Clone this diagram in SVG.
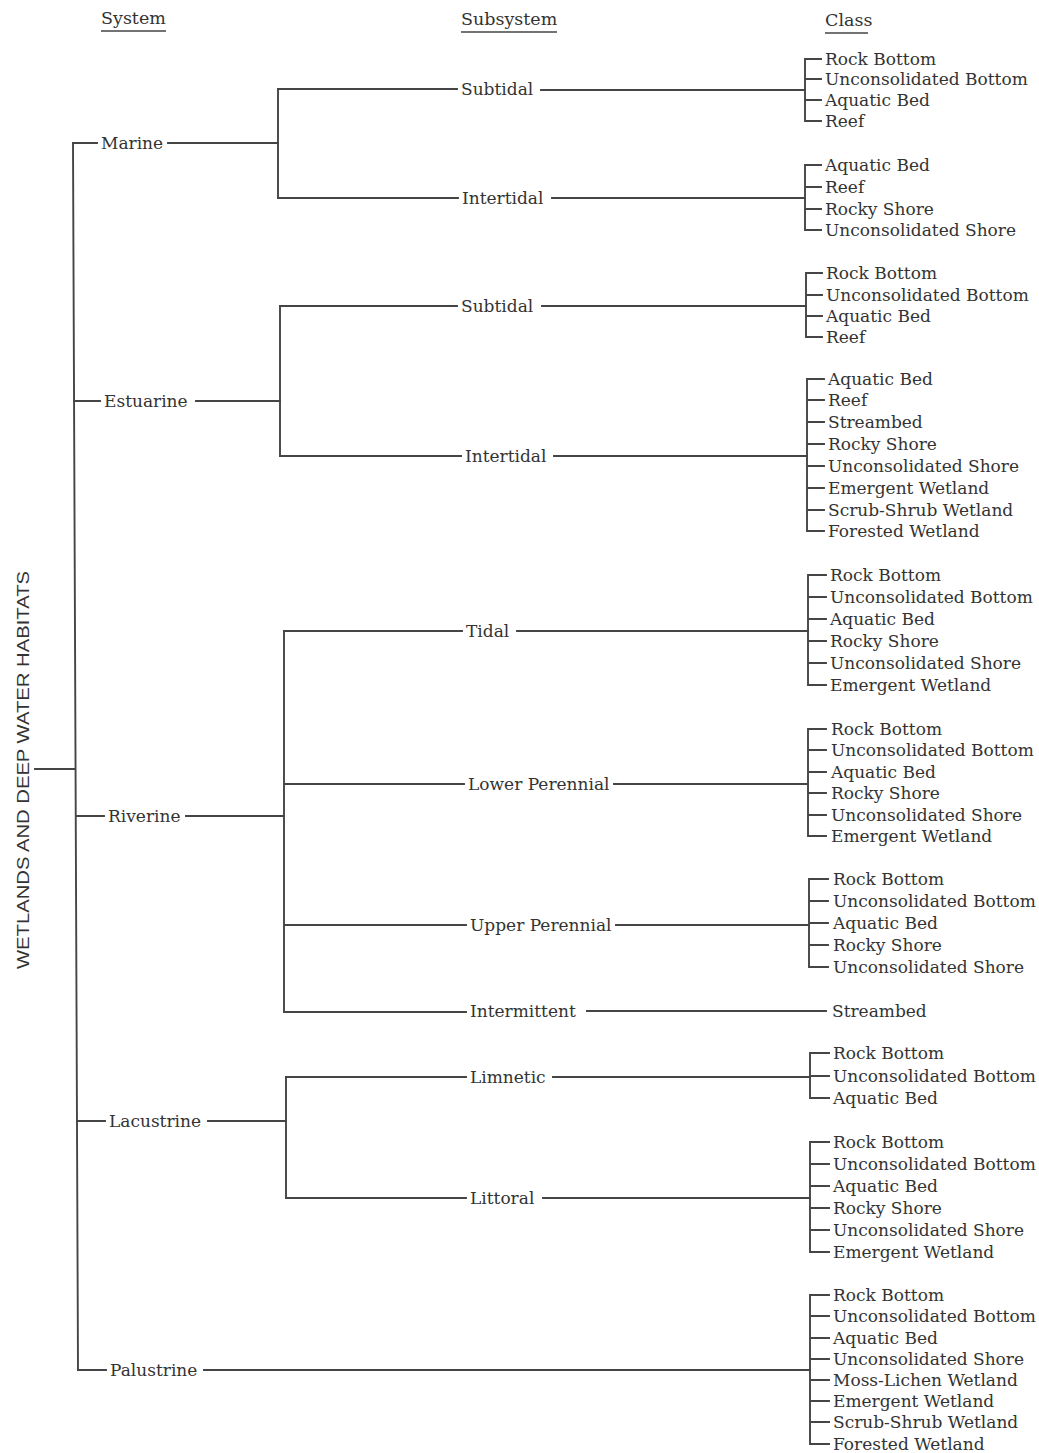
<svg xmlns="http://www.w3.org/2000/svg" width="1039" height="1453" viewBox="0 0 1039 1453">
<style>
.bg{fill:#ffffff}
.ln{fill:none;stroke:#454545;stroke-width:1.9;stroke-linecap:square}
.t{font-family:"DejaVu Serif","Liberation Serif",serif;font-size:17px;fill:#333333}
.h{font-family:"DejaVu Serif","Liberation Serif",serif;font-size:17.5px;fill:#333333}
.ul{stroke:#454545;stroke-width:1.6}
.root{font-family:"Liberation Sans","DejaVu Sans",sans-serif;font-size:17px;fill:#333333}
</style>
<rect class="bg" x="0" y="0" width="1039" height="1453"/>

<g id="headers">
<text class="h" x="101" y="24">System</text>
<line class="ul" x1="101" y1="31" x2="166" y2="31"/>
<text class="h" x="461" y="25">Subsystem</text>
<line class="ul" x1="461" y1="32" x2="557" y2="32"/>
<text class="h" x="825" y="26">Class</text>
<line class="ul" x1="825" y1="33" x2="868" y2="33"/>
</g>

<g id="connectors">
<path class="ln" d="M35 769H75"/>
<path class="ln" d="M73 143L78 1370"/>
<path class="ln" d="M73 143H97 M168 143H278"/>
<path class="ln" d="M74 401H100 M196 401H280"/>
<path class="ln" d="M76 816H104 M186 816H284"/>
<path class="ln" d="M77 1121H105 M208 1121H286"/>
<path class="ln" d="M78 1370H106 M204 1370H810"/>
<path class="ln" d="M278 89V198"/>
<path class="ln" d="M280 306V456"/>
<path class="ln" d="M284 631V1012"/>
<path class="ln" d="M286 1077V1198"/>
<path class="ln" d="M278 89H457 M541 90H805"/>
<path class="ln" d="M278 198H458 M552 198H805"/>
<path class="ln" d="M280 306H457 M542 306H806"/>
<path class="ln" d="M280 456H461 M554 456H807"/>
<path class="ln" d="M284 631H462 M517 631H808"/>
<path class="ln" d="M284 784H464 M614 784H808"/>
<path class="ln" d="M285 925H466 M616 925H809"/>
<path class="ln" d="M285 1012H466 M587 1011H826"/>
<path class="ln" d="M286 1077H466 M553 1077H810"/>
<path class="ln" d="M286 1198H466 M543 1198H810"/>
<path class="ln" d="M821 59H805V121H821 M805 79h16 M805 100h16"/>
<path class="ln" d="M821 165H805V230H821 M805 187h16 M805 209h16"/>
<path class="ln" d="M822 273H806V337H822 M806 295h16 M806 316h16"/>
<path class="ln" d="M824 379H807V531H824 M807 400h17 M807 422h17 M807 444h17 M807 466h17 M807 488h17 M807 510h17"/>
<path class="ln" d="M826 575H808V685H826 M808 597h18 M808 619h18 M808 641h18 M808 663h18"/>
<path class="ln" d="M826 729H808V836H826 M808 750h18 M808 772h18 M808 793h18 M808 815h18"/>
<path class="ln" d="M828 879H809V967H828 M809 901h19 M809 923h19 M809 945h19"/>
<path class="ln" d="M829 1053H810V1098H829 M810 1076h19"/>
<path class="ln" d="M829 1142H810V1252H829 M810 1164h19 M810 1186h19 M810 1208h19 M810 1230h19"/>
<path class="ln" d="M829 1295H810V1444H829 M810 1316h19 M810 1338h19 M810 1359h19 M810 1380h19 M810 1401h19 M810 1422h19"/>
</g>

<g id="root"><text class="root" transform="translate(29 969) rotate(-90)" textLength="398" lengthAdjust="spacingAndGlyphs">WETLANDS AND DEEP WATER HABITATS</text></g>

<g id="sys-marine"><text class="t" x="101" y="149">Marine</text></g>
<g id="sys-estuarine"><text class="t" x="104" y="407">Estuarine</text></g>
<g id="sys-riverine"><text class="t" x="108" y="822">Riverine</text></g>
<g id="sys-lacustrine"><text class="t" x="109" y="1127">Lacustrine</text></g>
<g id="sys-palustrine"><text class="t" x="110" y="1376">Palustrine</text></g>

<g id="sub-marine-subtidal"><text class="t" x="461" y="95">Subtidal</text></g>
<g id="sub-marine-intertidal"><text class="t" x="462" y="204">Intertidal</text></g>
<g id="sub-estuarine-subtidal"><text class="t" x="461" y="312">Subtidal</text></g>
<g id="sub-estuarine-intertidal"><text class="t" x="465" y="462">Intertidal</text></g>
<g id="sub-riverine-tidal"><text class="t" x="466" y="637">Tidal</text></g>
<g id="sub-riverine-lower"><text class="t" x="468" y="790">Lower Perennial</text></g>
<g id="sub-riverine-upper"><text class="t" x="470" y="931">Upper Perennial</text></g>
<g id="sub-riverine-intermittent"><text class="t" x="470" y="1017">Intermittent</text></g>
<g id="sub-lacustrine-limnetic"><text class="t" x="470" y="1083">Limnetic</text></g>
<g id="sub-lacustrine-littoral"><text class="t" x="470" y="1204">Littoral</text></g>

<g id="cls-marine-subtidal" class="t">
<text x="825" y="65">Rock Bottom</text>
<text x="825" y="85">Unconsolidated Bottom</text>
<text x="825" y="106">Aquatic Bed</text>
<text x="825" y="127">Reef</text>
</g>
<g id="cls-marine-intertidal" class="t">
<text x="825" y="171">Aquatic Bed</text>
<text x="825" y="193">Reef</text>
<text x="825" y="215">Rocky Shore</text>
<text x="825" y="236">Unconsolidated Shore</text>
</g>
<g id="cls-estuarine-subtidal" class="t">
<text x="826" y="279">Rock Bottom</text>
<text x="826" y="301">Unconsolidated Bottom</text>
<text x="826" y="322">Aquatic Bed</text>
<text x="826" y="343">Reef</text>
</g>
<g id="cls-estuarine-intertidal" class="t">
<text x="828" y="385">Aquatic Bed</text>
<text x="828" y="406">Reef</text>
<text x="828" y="428">Streambed</text>
<text x="828" y="450">Rocky Shore</text>
<text x="828" y="472">Unconsolidated Shore</text>
<text x="828" y="494">Emergent Wetland</text>
<text x="828" y="516">Scrub-Shrub Wetland</text>
<text x="828" y="537">Forested Wetland</text>
</g>
<g id="cls-riverine-tidal" class="t">
<text x="830" y="581">Rock Bottom</text>
<text x="830" y="603">Unconsolidated Bottom</text>
<text x="830" y="625">Aquatic Bed</text>
<text x="830" y="647">Rocky Shore</text>
<text x="830" y="669">Unconsolidated Shore</text>
<text x="830" y="691">Emergent Wetland</text>
</g>
<g id="cls-riverine-lower" class="t">
<text x="831" y="735">Rock Bottom</text>
<text x="831" y="756">Unconsolidated Bottom</text>
<text x="831" y="778">Aquatic Bed</text>
<text x="831" y="799">Rocky Shore</text>
<text x="831" y="821">Unconsolidated Shore</text>
<text x="831" y="842">Emergent Wetland</text>
</g>
<g id="cls-riverine-upper" class="t">
<text x="833" y="885">Rock Bottom</text>
<text x="833" y="907">Unconsolidated Bottom</text>
<text x="833" y="929">Aquatic Bed</text>
<text x="833" y="951">Rocky Shore</text>
<text x="833" y="973">Unconsolidated Shore</text>
</g>
<g id="cls-riverine-intermittent" class="t">
<text x="832" y="1017">Streambed</text>
</g>
<g id="cls-lacustrine-limnetic" class="t">
<text x="833" y="1059">Rock Bottom</text>
<text x="833" y="1082">Unconsolidated Bottom</text>
<text x="833" y="1104">Aquatic Bed</text>
</g>
<g id="cls-lacustrine-littoral" class="t">
<text x="833" y="1148">Rock Bottom</text>
<text x="833" y="1170">Unconsolidated Bottom</text>
<text x="833" y="1192">Aquatic Bed</text>
<text x="833" y="1214">Rocky Shore</text>
<text x="833" y="1236">Unconsolidated Shore</text>
<text x="833" y="1258">Emergent Wetland</text>
</g>
<g id="cls-palustrine" class="t">
<text x="833" y="1301">Rock Bottom</text>
<text x="833" y="1322">Unconsolidated Bottom</text>
<text x="833" y="1344">Aquatic Bed</text>
<text x="833" y="1365">Unconsolidated Shore</text>
<text x="833" y="1386">Moss-Lichen Wetland</text>
<text x="833" y="1407">Emergent Wetland</text>
<text x="833" y="1428">Scrub-Shrub Wetland</text>
<text x="833" y="1450">Forested Wetland</text>
</g>
</svg>
